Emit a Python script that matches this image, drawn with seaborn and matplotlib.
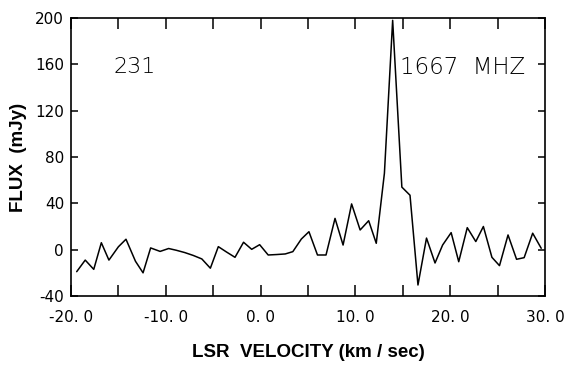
import matplotlib
matplotlib.use("Agg")
import matplotlib.pyplot as plt
import seaborn as sns
import pandas as pd

velocity = [-19.4, -18.5, -17.6, -16.8, -16.0, -15.0, -14.2, -13.2, -12.4, -11.6,
            -10.6, -9.7, -8.9, -8.0, -7.1, -6.2, -5.3, -4.46, -3.6, -2.7,
            -1.8, -0.94, -0.1, 0.8, 1.7, 2.6, 3.4, 4.3, 5.1, 6.0,
            6.9, 7.85, 8.7, 9.6, 10.5, 11.4, 12.2, 13.06, 13.93, 14.9,
            15.76, 16.6, 17.5, 18.4, 19.2, 20.1, 20.9, 21.8, 22.7, 23.5,
            24.4, 25.2, 26.1, 27.0, 27.8, 28.7, 29.6]
flux = [-19, -9, -17, 6, -9, 2.5, 9, -10, -20, 1.5,
        -1.5, 1, -0.5, -2.5, -5, -8, -16, 2.6, -2, -6.6,
        6.4, 0.3, 4.3, -4.6, -4.2, -3.7, -1.7, 9.2, 15.5, -4.6,
        -4.6, 27, 4, 39.5, 17, 25, 5.5, 66, 198, 54,
        47, -30.5, 10, -11.5, 4, 14.7, -10.4, 19, 7, 20,
        -6.6, -13.8, 12.7, -8.3, -6.9, 14.2, 1.2]

xticks = [-20, -10, 0, 10, 20, 30]
xticklabels = ["-20. 0", "-10. 0", "0. 0", "10. 0", "20. 0", "30. 0"]
yticks = [-40, 0, 40, 80, 120, 160, 200]
yticklabels = ["-40", "0", "40", "80", "120", "160", "200"]

sns.set_style("white")
plt.rcParams['font.family'] = ['Liberation Sans', 'DejaVu Sans']
plt.rcParams['text.color'] = 'black'
plt.rcParams['axes.labelcolor'] = 'black'
plt.rcParams['xtick.color'] = 'black'
plt.rcParams['ytick.color'] = 'black'

df = pd.DataFrame({"velocity": velocity, "flux": flux})

fig = plt.figure(figsize=(5.7, 3.74), dpi=100)
ax = fig.add_axes([71/570, 1-296/374, (545-71)/570, (296-18)/374])
sns.lineplot(data=df, x="velocity", y="flux", sort=False, color="black",
             linewidth=1.1, ax=ax)

ax.set_xlim(-20, 30)
ax.set_ylim(-40, 200)
ax.set_xticks(list(range(-20, 31, 5)))
ax.set_xticklabels([xticklabels[xticks.index(v)] if v in xticks else "" for v in range(-20, 31, 5)],
                   fontsize=11, family="DejaVu Sans", color="black")
ax.set_yticks(yticks)
ax.set_yticklabels(yticklabels, fontsize=11, family="DejaVu Sans", color="black")
ax.tick_params(axis="x", direction="in", length=8, width=1.1, top=True, bottom=True, pad=10,
               colors="black")
ax.tick_params(axis="y", direction="in", length=5, width=1.1, left=True, right=True, pad=5,
               colors="black")
for s in ax.spines.values():
    s.set_linewidth(1.2)
    s.set_color("black")

ax.set_xlabel("LSR  VELOCITY (km / sec)", fontsize=13.5, fontweight="bold", labelpad=14,
              color="black")
ax.set_ylabel("FLUX  (mJy)", fontsize=13.5, fontweight="bold", labelpad=6, color="black")

ax.text(0.09, 0.822, "231", transform=ax.transAxes, fontsize=16, va="center", ha="left",
        family="DejaVu Sans", fontweight="light", color="black")
ax.text(0.695, 0.822, "1667  MHZ", transform=ax.transAxes, fontsize=16.5, va="center", ha="left",
        family="DejaVu Sans", fontweight="light", color="black")

fig.savefig("out.png", dpi=100)
